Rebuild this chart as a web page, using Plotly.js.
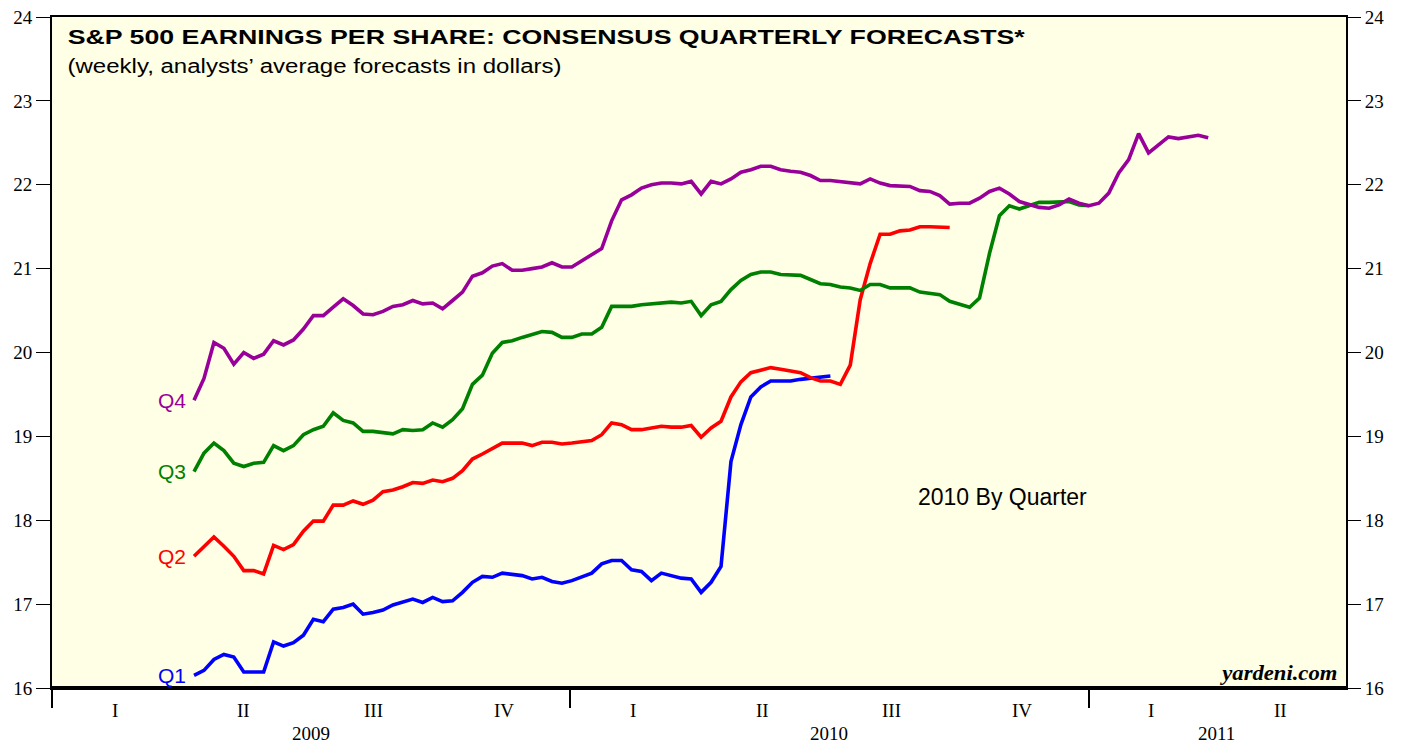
<!DOCTYPE html>
<html><head><meta charset="utf-8">
<script src="https://cdn.plot.ly/plotly-3.0.1.min.js"></script>
<style>html,body{margin:0;padding:0;background:#fff;} #chart{width:1407px;height:744px;}</style>
</head><body><div id="chart"></div>
<script>
// Weekly observations, first week and values (dollars)
const startDate = '2009-04-11';
const seriesNames = ['Q1', 'Q2', 'Q3', 'Q4'];
const q1 = [16.15,16.21,16.34,16.40,16.37,16.19,16.19,16.19,16.55,16.50,
16.54,16.63,16.82,16.79,16.94,16.96,17.00,16.88,16.90,16.93,
16.99,17.02,17.06,17.02,17.08,17.03,17.04,17.14,17.26,17.33,
17.32,17.37,17.36,17.34,17.30,17.32,17.27,17.25,17.28,17.32,
17.37,17.48,17.52,17.52,17.41,17.39,17.28,17.37,17.34,17.31,
17.30,17.14,17.26,17.45,18.70,19.14,19.47,19.59,19.66,19.66,
19.66,19.68,19.69,19.70,19.72];
const q2 = [17.57,17.69,17.80,17.69,17.57,17.40,17.40,17.36,17.70,17.65,
17.71,17.87,17.99,17.99,18.18,18.18,18.23,18.19,18.24,18.34,
18.36,18.40,18.45,18.44,18.48,18.46,18.50,18.59,18.73,18.79,
18.86,18.92,18.92,18.92,18.89,18.93,18.93,18.91,18.92,18.94,
18.95,19.02,19.16,19.14,19.08,19.08,19.10,19.12,19.11,19.11,
19.13,18.99,19.10,19.18,19.47,19.65,19.76,19.79,19.82,19.80,
19.78,19.76,19.70,19.66,19.66,19.62,19.85,20.63,21.06,21.41,
21.41,21.45,21.46,21.50,21.50,21.50,21.49];
const q3 = [18.58,18.80,18.92,18.83,18.68,18.64,18.68,18.69,18.89,18.83,
18.89,19.02,19.08,19.12,19.28,19.19,19.16,19.06,19.06,19.04,
19.03,19.08,19.07,19.08,19.16,19.11,19.20,19.33,19.62,19.73,
19.99,20.12,20.14,20.18,20.21,20.25,20.24,20.18,20.18,20.22,
20.22,20.30,20.55,20.55,20.55,20.57,20.58,20.60,20.60,20.59,
20.61,20.44,20.57,20.61,20.75,20.86,20.93,20.96,20.96,20.93,
20.93,20.92,20.87,20.82,20.81,20.78,20.77,20.74,20.81,20.81,
20.77,20.77,20.77,20.72,20.70,20.69,20.61,20.57,20.54,20.65,
21.18,21.63,21.75,21.71,21.75,21.79,21.79,21.79,21.80,21.76,
21.75];
const q4 = [19.43,19.69,20.12,20.05,19.86,20.00,19.93,19.98,20.14,20.09,
20.15,20.28,20.44,20.44,20.54,20.64,20.56,20.46,20.45,20.49,
20.55,20.57,20.62,20.58,20.59,20.52,20.62,20.72,20.91,20.95,
21.03,21.06,20.98,20.98,21.00,21.02,21.07,21.02,21.02,21.09,
21.16,21.24,21.57,21.82,21.88,21.96,22.00,22.02,22.02,22.01,
22.04,21.89,22.04,22.01,22.07,22.15,22.18,22.22,22.22,22.18,
22.16,22.15,22.11,22.05,22.05,22.04,22.03,22.01,22.07,22.02,
21.99,21.98,21.98,21.93,21.92,21.87,21.77,21.78,21.78,21.84,
21.92,21.96,21.89,21.80,21.76,21.73,21.72,21.76,21.83,21.78,
21.75,21.78,21.90,22.14,22.30,22.61,22.38,22.47,22.57,22.55,
22.57,22.59,22.56];

const yearTicks = ['2009-01-01', '2010-01-01', '2011-01-01'];
const quarterLabels = ['I','II','III','IV','I','II','III','IV','I','II'];
const quarterMids = ['2009-02-14','2009-05-16','2009-08-15','2009-11-15',
                     '2010-02-14','2010-05-16','2010-08-15','2010-11-15',
                     '2011-02-14','2011-05-16'];
const yearLabels = ['2009', '2010', '2011'];
const yearMids = ['2009-07-02', '2010-07-02', '2011-04-01'];
const yTicks = [16,17,18,19,20,21,22,23,24];

const titleText = 'S&P 500 EARNINGS PER SHARE: CONSENSUS QUARTERLY FORECASTS*';
const subtitleText = '(weekly, analysts’ average forecasts in dollars)';
const sourceText = 'yardeni.com';

function weekDates(n) {
  const out = [];
  const d0 = new Date(startDate + 'T00:00:00Z');
  for (let i = 0; i < n; i++) {
    const d = new Date(d0.getTime() + i * 7 * 86400000);
    out.push(d.toISOString().slice(0, 10));
  }
  return out;
}

const colors = ['#0000FF', '#FF0000', '#008000', '#990099'];
const allSeries = [q1, q2, q3, q4];

const traces = allSeries.map((s, i) => ({
  x: weekDates(s.length), y: s, type: 'scatter', mode: 'lines',
  line: {color: colors[i], width: 3.6}, name: seriesNames[i],
  hoverinfo: 'skip', showlegend: false
}));
// invisible trace so the right-side axis is drawn
traces.push({x: weekDates(q4.length), y: q4, type: 'scatter', mode: 'lines', yaxis: 'y2',
  line: {color: 'rgba(0,0,0,0)', width: 0}, hoverinfo: 'skip', showlegend: false});

const serif = 'Liberation Serif, Times New Roman, serif';
const sans = 'Liberation Sans, Arial, sans-serif';

const annotations = [];
allSeries.forEach((s, i) => {
  annotations.push({x: startDate, y: s[0], xref: 'x', yref: 'y', text: seriesNames[i],
    showarrow: false, xanchor: 'right', yanchor: 'middle', xshift: -6,
    font: {family: sans, size: 21, color: colors[i]}});
});
quarterLabels.forEach((t, i) => {
  annotations.push({x: quarterMids[i], y: -0.033, xref: 'x', yref: 'paper', text: t,
    showarrow: false, xanchor: 'center', yanchor: 'middle',
    font: {family: serif, size: 19, color: '#000'}});
});
yearLabels.forEach((t, i) => {
  annotations.push({x: yearMids[i], y: -0.068, xref: 'x', yref: 'paper', text: t,
    showarrow: false, xanchor: 'center', yanchor: 'middle',
    font: {family: serif, size: 19, color: '#000'}});
});
annotations.push({x: 0.3821, y: 0.970, xref: 'paper', yref: 'paper', xanchor: 'center', yanchor: 'middle',
  text: titleText, showarrow: false,
  font: {family: sans, size: 20, weight: 'bold', color: '#000'}});
annotations.push({x: 0.2032, y: 0.927, xref: 'paper', yref: 'paper', xanchor: 'center', yanchor: 'middle',
  text: subtitleText, showarrow: false,
  font: {family: sans, size: 19.5, color: '#000'}});
annotations.push({x: '2010-11-01', y: 18.28, xref: 'x', yref: 'y', xanchor: 'center', yanchor: 'middle',
  text: '2010 By Quarter', showarrow: false, font: {family: sans, size: 23, color: '#000'}});
annotations.push({x: 0.9486, y: 0.022, xref: 'paper', yref: 'paper', xanchor: 'center', yanchor: 'middle',
  text: sourceText, showarrow: false,
  font: {family: serif, size: 20, weight: 'bold', style: 'italic', color: '#000'}});

const layout = {
  width: 1407, height: 744,
  margin: {l: 52, r: 61, t: 17, b: 56, pad: 0},
  paper_bgcolor: '#FFFFFF', plot_bgcolor: '#FFFFE6',
  showlegend: false,
  xaxis: {type: 'date', range: ['2009-01-01', '2011-07-01'], tickvals: yearTicks,
    showticklabels: false, ticks: 'outside', ticklen: 18, tickwidth: 2, tickcolor: '#000',
    showgrid: false, zeroline: false, showline: true, linecolor: '#000', linewidth: 2, mirror: true},
  yaxis: {range: [16, 24], tickvals: yTicks, ticks: 'outside', ticklen: 14, tickwidth: 1, tickcolor: '#000',
    tickfont: {family: serif, size: 19, color: '#000'}, showgrid: false, zeroline: false,
    showline: true, linecolor: '#000', linewidth: 2, mirror: true},
  yaxis2: {range: [16, 24], tickvals: yTicks, overlaying: 'y', side: 'right', ticks: 'outside', ticklen: 14,
    tickwidth: 1, tickcolor: '#000', tickfont: {family: serif, size: 19, color: '#000'},
    showgrid: false, zeroline: false, showline: false},
  shapes: [{type: 'line', xref: 'paper', yref: 'paper', x0: 0, x1: 1, y0: 0, y1: 0,
    line: {color: '#000', width: 4}}],
  annotations: annotations
};

// target text widths (px) of the wide-set lettering in the original
const stretchWidths = {};
stretchWidths[titleText] = 957;
stretchWidths[subtitleText] = 494;
stretchWidths[sourceText] = 115;

Plotly.newPlot('chart', traces, layout, {displayModeBar: false, staticPlot: true}).then(function () {
  document.querySelectorAll('#chart .annotation-text').forEach(function (t) {
    const w = stretchWidths[t.textContent];
    if (w) {
      t.setAttribute('textLength', w);
      t.setAttribute('lengthAdjust', 'spacingAndGlyphs');
    }
  });
});
</script>
</body></html>
